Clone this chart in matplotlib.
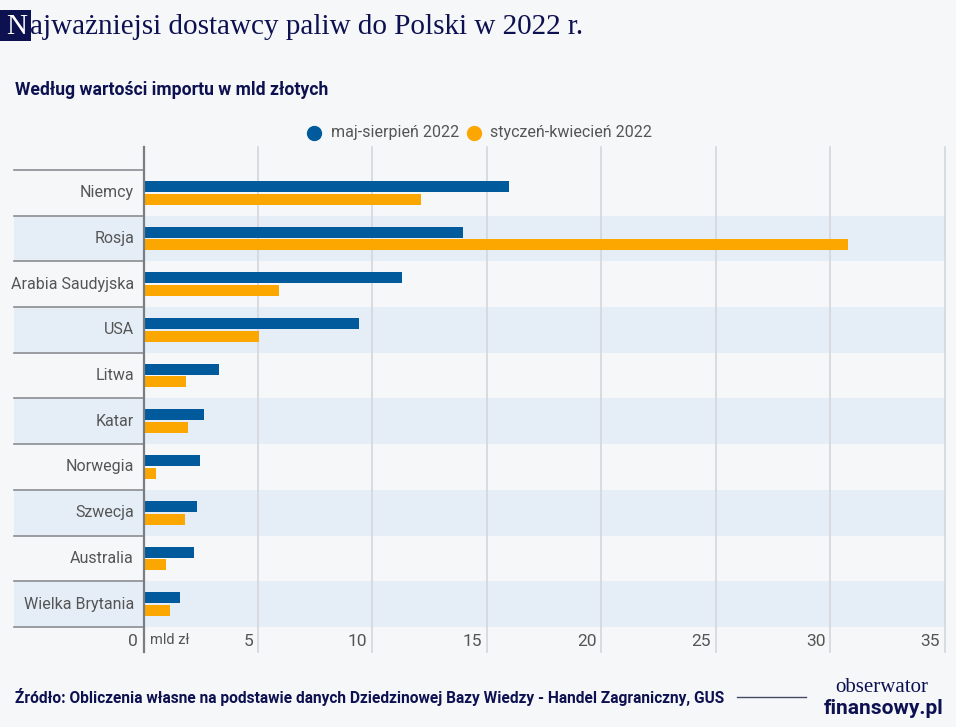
import matplotlib
matplotlib.use("Agg")
import matplotlib.pyplot as plt
from matplotlib.patches import Rectangle
from matplotlib.transforms import blended_transform_factory
from matplotlib import font_manager

countries = ["Niemcy", "Rosja", "Arabia Saudyjska", "USA", "Litwa", "Katar",
             "Norwegia", "Szwecja", "Australia", "Wielka Brytania"]
may_aug = [15.95, 13.97, 11.3, 9.4, 3.3, 2.65, 2.45, 2.35, 2.2, 1.6]
jan_apr = [12.1, 30.75, 5.9, 5.05, 1.85, 1.95, 0.55, 1.8, 1.0, 1.15]
series_names = ["maj-sierpień 2022", "styczeń-kwiecień 2022"]
xticks = [0, 5, 10, 15, 20, 25, 30, 35]

W, H = 956, 727
BG = "#f6f7f9"
BAND = "#e5eef7"
BLUE = "#005a9c"
ORANGE = "#fca600"
NAVY = "#0d1150"
GRAY = "#555555"
GRID = "#d3d6db"

avail = {f.name for f in font_manager.fontManager.ttflist}
cond = "Liberation Sans Narrow" if "Liberation Sans Narrow" in avail else "Roboto"
SANS = [cond, "DejaVu Sans"]
SERIF = ["Liberation Serif", "DejaVu Serif"]

def fx(x): return x / W
def fy(y): return 1 - y / H

fig = plt.figure(figsize=(W / 100, H / 100), dpi=100, facecolor=BG)

x0, x1 = 143.5, 945
y0, y1 = 147, 627
ax = fig.add_axes([fx(x0), fy(y1), fx(x1) - fx(x0), (y1 - y0) / H])
ax.set_facecolor("none")
for s in ax.spines.values():
    s.set_visible(False)
ax.set_xlim(0, 35)
ax.set_ylim(9.5, -1.0)
ax.set_xticks([])
ax.set_yticks([])

n = len(countries)
bt = blended_transform_factory(fig.transFigure, ax.transData)
# bands
for i in range(n):
    if i % 2 == 1:
        ax.add_patch(Rectangle((fx(14), i - 0.5), fx(945) - fx(14), 1.0,
                               transform=bt, facecolor=BAND, edgecolor="none",
                               clip_on=False, zorder=0))
# separators in label area
for i in range(n + 1):
    ax.plot([fx(14), fx(143)], [i - 0.5, i - 0.5], transform=bt, color="#8a8d92",
            lw=1.2, clip_on=False, zorder=1)

# gridlines extending down through tick labels
gt = blended_transform_factory(ax.transData, fig.transFigure)
for t in xticks[1:]:
    ax.plot([t, t], [fy(147), fy(652)], transform=gt, color=GRID, lw=1.2,
            clip_on=False, zorder=1)
ax.plot([0, 0], [fy(147), fy(652)], transform=gt, color="#7a7d82", lw=1.6,
        clip_on=False, zorder=4)

h = 0.24
pos = list(range(n))
ax.barh([p - 0.14 for p in pos], may_aug, height=h, color=BLUE, zorder=3)
ax.barh([p + 0.14 for p in pos], jan_apr, height=h, color=ORANGE, zorder=3)

# y labels
for i, c in enumerate(countries):
    ax.text(fx(134), i, c, transform=bt, ha="right", va="center",
            fontsize=11.5, color=GRAY, family=SANS)

# x tick labels
for t in xticks:
    xoff = -5 if t else -6
    ax.annotate(str(t), xy=(t, fy(641)), xycoords=gt, xytext=(xoff, 0),
                textcoords="offset pixels", ha="right", va="center",
                fontsize=12.5, color=GRAY, family=SANS)
ax.annotate("mld zł", xy=(0, fy(640)), xycoords=gt, xytext=(6, 0),
            textcoords="offset pixels", ha="left", va="center",
            fontsize=10.5, color=GRAY, family=SANS)

# title
fig.patches.append(Rectangle((fx(0), fy(41)), fx(31), 31 / H, transform=fig.transFigure,
                             facecolor=NAVY, edgecolor="none"))
fig.text(fx(17), fy(27), "N", ha="center", va="center", fontsize=21,
         color="white", family=SERIF)
fig.text(fx(30.5), fy(27), "ajważniejsi dostawcy paliw do Polski w 2022 r.",
         ha="left", va="center", fontsize=21, color=NAVY, family=SERIF)

fig.text(fx(15), fy(90), "Według wartości importu w mld złotych", ha="left",
         va="center", fontsize=12.7, color=NAVY, family=SANS, fontweight="bold")

# legend
fig.lines.append(plt.Line2D([fx(314)], [fy(133)], marker="o", markersize=10,
                            color=BLUE, transform=fig.transFigure))
fig.text(fx(331), fy(133), series_names[0], ha="left", va="center",
         fontsize=11.5, color=GRAY, family=SANS)
fig.lines.append(plt.Line2D([fx(474)], [fy(133)], marker="o", markersize=10,
                            color=ORANGE, transform=fig.transFigure))
fig.text(fx(490), fy(133), series_names[1], ha="left", va="center",
         fontsize=11.5, color=GRAY, family=SANS)

# footer
fig.text(fx(15), fy(697), "Źródło: Obliczenia własne na podstawie danych Dziedzinowej "
         "Bazy Wiedzy - Handel Zagraniczny, GUS", ha="left", va="center",
         fontsize=11.2, color=NAVY, family=SANS, fontweight="bold")
fig.lines.append(plt.Line2D([fx(737), fx(806)], [fy(697), fy(697)], color="#444a66",
                            lw=1, transform=fig.transFigure))
fig.text(fx(882), fy(688), "obserwator", ha="center", va="center", fontsize=15,
         color=NAVY, family=SERIF)
fig.text(fx(884), fy(708), "finansowy.pl", ha="center", va="center", fontsize=15,
         color=NAVY, family=SANS, fontweight="bold")

fig.savefig("out.png", dpi=100, facecolor=BG)
